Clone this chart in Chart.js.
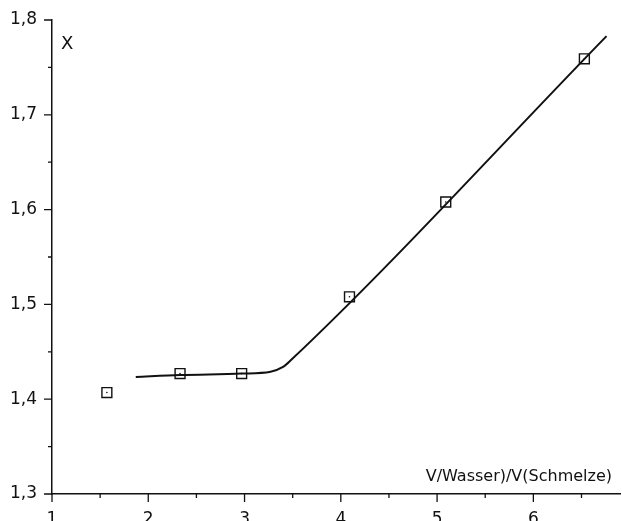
<!DOCTYPE html>
<html lang="de">
<head>
    <meta charset="UTF-8">
    <title>X gegen V(Wasser)/V(Schmelze)</title>
    <style>
        body {
            margin: 0;
            background: #fff;
        }
        #chart {
            display: block;
        }
    </style>
</head>
<body>
    <canvas id="chart" width="622" height="521"></canvas>

    <script src="https://cdn.jsdelivr.net/npm/chart.js"></script>
    <script>
        // Messpunkte (Quadrate)
        const pointX = [1.57, 2.33, 2.97, 4.09, 5.09, 6.53];
        const pointY = [1.407, 1.427, 1.427, 1.508, 1.608, 1.759];

        // Ausgleichskurve
        const curveX = [1.87, 2.33, 2.97, 3.27, 3.40, 3.48, 6.76];
        const curveY = [1.4235, 1.4255, 1.427, 1.429, 1.434, 1.441, 1.783];

        const xLabel = 'V/Wasser)/V(Schmelze)';
        const yLabel = 'X';

        const FONT = '"DejaVu Sans", "Liberation Sans", sans-serif';

        const toXY = (xs, ys) => xs.map((x, i) => ({ x: x, y: ys[i] }));
        const isMajor = (v, step) => Math.abs(v / step - Math.round(v / step)) < 1e-6;
        const fmt = (v, d) => v.toFixed(d).replace('.', ',');

        // no extra room for overhanging labels, the area is placed by hand
        const noPad = s => {
            s.paddingTop = 0;
            s.paddingBottom = 0;
            s.paddingLeft = 0;
            s.paddingRight = 0;
        };

        // ticks drawn by hand so major and minor get different lengths
        const tickMarks = {
            id: 'tickMarks',
            afterDraw(chart) {
                const ctx = chart.ctx;
                const xs = chart.scales.x;
                const ys = chart.scales.y;
                ctx.save();
                ctx.strokeStyle = '#111';
                ctx.lineWidth = 1.3;
                ctx.beginPath();
                xs.ticks.forEach(t => {
                    const px = xs.getPixelForValue(t.value);
                    const len = isMajor(t.value, 1) ? 8 : 4;
                    ctx.moveTo(px, xs.top);
                    ctx.lineTo(px, xs.top + len);
                });
                ys.ticks.forEach(t => {
                    const py = ys.getPixelForValue(t.value);
                    const len = isMajor(t.value, 0.1) ? 8 : 4;
                    ctx.moveTo(ys.right, py);
                    ctx.lineTo(ys.right - len, py);
                });
                ctx.stroke();

                // axis titles
                ctx.fillStyle = '#111';
                ctx.font = '18px ' + FONT;
                ctx.textAlign = 'left';
                ctx.textBaseline = 'alphabetic';
                ctx.fillText(yLabel, 61, 49);
                ctx.font = '16px ' + FONT;
                ctx.textAlign = 'right';
                ctx.fillText(xLabel, 612, 481);
                ctx.restore();
            }
        };

        new Chart(document.getElementById('chart'), {
            type: 'scatter',
            data: {
                datasets: [{
                    data: toXY(curveX, curveY),
                    showLine: true,
                    borderColor: '#111',
                    borderWidth: 2,
                    pointRadius: 0,
                    cubicInterpolationMode: 'monotone',
                    order: 2
                }, {
                    data: toXY(pointX, pointY),
                    pointStyle: 'rect',
                    pointRadius: 7,
                    pointBorderWidth: 1.4,
                    pointBorderColor: '#111',
                    pointBackgroundColor: 'rgba(0,0,0,0)',
                    order: 1
                }, {
                    data: toXY(pointX, pointY),
                    pointRadius: 0.8,
                    pointBorderWidth: 0,
                    pointBackgroundColor: '#111',
                    order: 0
                }]
            },
            options: {
                responsive: false,
                animation: false,
                layout: {
                    autoPadding: false,
                    padding: { top: 20, right: 2, left: 0, bottom: 0 }
                },
                plugins: {
                    legend: { display: false },
                    tooltip: { enabled: false }
                },
                scales: {
                    x: {
                        type: 'linear',
                        min: 1,
                        max: 6.9,
                        grid: { display: false, drawTicks: false },
                        border: { display: true, color: '#111', width: 1.5 },
                        afterFit: s => { s.height = 27; noPad(s); },
                        ticks: {
                            stepSize: 0.5,
                            includeBounds: false,
                            autoSkip: false,
                            maxRotation: 0,
                            padding: 15,
                            color: '#111',
                            font: { family: FONT, size: 17 },
                            callback: v => isMajor(v, 1) ? fmt(v, 0) : ''
                        }
                    },
                    y: {
                        type: 'linear',
                        min: 1.3,
                        max: 1.8,
                        grid: { display: false, drawTicks: false },
                        border: { display: true, color: '#111', width: 1.5 },
                        afterFit: s => { s.width = 52; noPad(s); },
                        ticks: {
                            stepSize: 0.05,
                            includeBounds: false,
                            autoSkip: false,
                            padding: 15,
                            color: '#111',
                            font: { family: FONT, size: 17 },
                            callback: v => isMajor(v, 0.1) ? fmt(v, 1) : ''
                        }
                    }
                }
            },
            plugins: [tickMarks]
        });
    </script>
</body>
</html>
